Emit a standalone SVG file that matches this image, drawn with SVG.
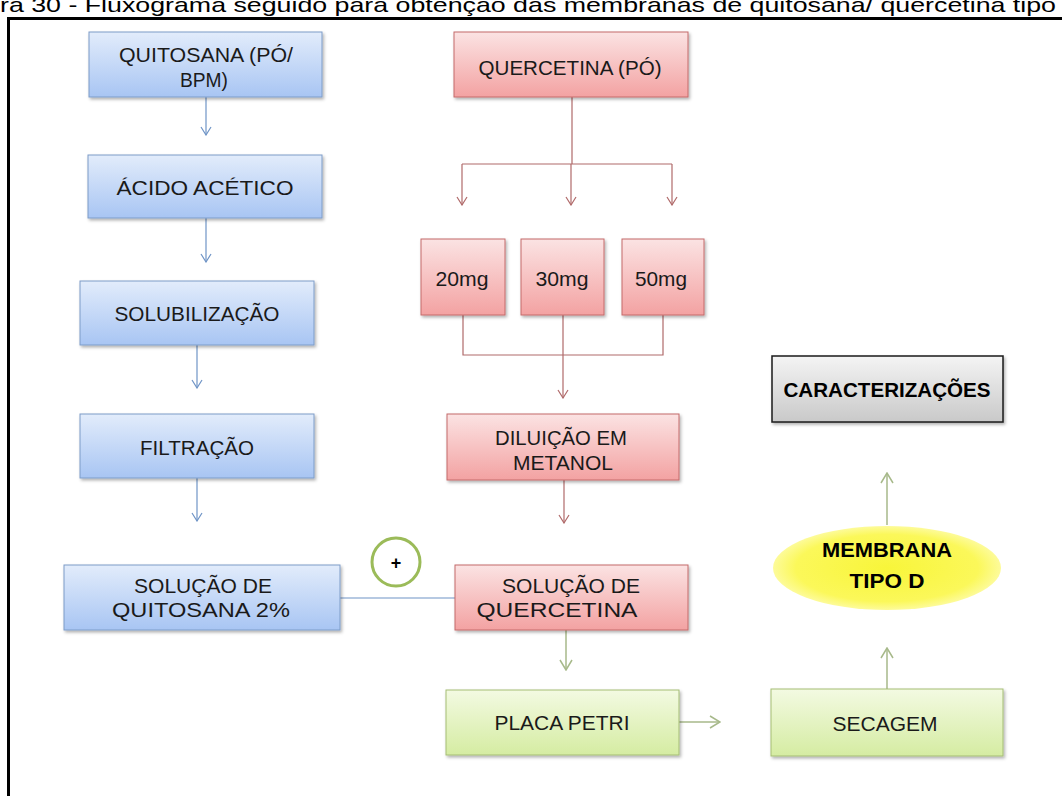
<svg xmlns="http://www.w3.org/2000/svg" width="1062" height="796" viewBox="0 0 1062 796">
<style>
.t{font-family:"Liberation Sans",Arial,sans-serif;font-size:21px;fill:#1a1a1a;text-anchor:middle}
.b{font-weight:bold;fill:#000}
.blue{fill:url(#gb);stroke:#7d9cc8;stroke-width:1}
.red{fill:url(#gr);stroke:#c46a6a;stroke-width:1}
.green{fill:url(#gg);stroke:#a5bd75;stroke-width:1}
.gray{fill:url(#gy);stroke:#1a1a1a;stroke-width:1.5}
.cb{stroke:#6f94c6;stroke-width:1.2;fill:none}
.cr{stroke:#b06a6a;stroke-width:1.2;fill:none}
.cg{stroke:#a7b98a;stroke-width:1.5;fill:none}
</style>
<defs>
<linearGradient id="gb" x1="0" y1="0" x2="0" y2="1"><stop offset="0" stop-color="#e2ecfb"/><stop offset="1" stop-color="#a8c5f3"/></linearGradient>
<linearGradient id="gr" x1="0" y1="0" x2="0" y2="1"><stop offset="0" stop-color="#fbe3e3"/><stop offset="1" stop-color="#f3a2a2"/></linearGradient>
<linearGradient id="gg" x1="0" y1="0" x2="0" y2="1"><stop offset="0" stop-color="#f3fae2"/><stop offset="1" stop-color="#d5eca2"/></linearGradient>
<linearGradient id="gy" x1="0" y1="0" x2="0" y2="1"><stop offset="0" stop-color="#f4f4f4"/><stop offset="1" stop-color="#c9c9c9"/></linearGradient>
<radialGradient id="ye" cx="0.5" cy="0.5" r="0.5"><stop offset="0" stop-color="#f8f53a"/><stop offset="0.8" stop-color="#fbf85a"/><stop offset="1" stop-color="#fdfb9a"/></radialGradient>
<filter id="sh" x="-10%" y="-10%" width="130%" height="140%"><feDropShadow dx="1.5" dy="2" stdDeviation="1.5" flood-color="#000" flood-opacity="0.3"/></filter>
<marker id="ab" markerWidth="10" markerHeight="12" refX="9" refY="6" orient="auto" markerUnits="userSpaceOnUse"><path d="M1,1 L9,6 L1,11" fill="none" stroke="#6f94c6" stroke-width="1.2"/></marker>
<marker id="ar" markerWidth="10" markerHeight="12" refX="9" refY="6" orient="auto" markerUnits="userSpaceOnUse"><path d="M1,1 L9,6 L1,11" fill="none" stroke="#b06a6a" stroke-width="1.2"/></marker>
<marker id="ag" markerWidth="12" markerHeight="14" refX="11" refY="7" orient="auto" markerUnits="userSpaceOnUse"><path d="M1,1 L11,7 L1,13" fill="none" stroke="#a7b98a" stroke-width="1.5"/></marker>
</defs>
<rect width="1062" height="796" fill="#fff"/>
<text x="0" y="12" style="font-family:'Liberation Sans',Arial,sans-serif;font-size:21px;fill:#000" textLength="1056" lengthAdjust="spacingAndGlyphs">ra 30 - Fluxograma seguido para obtenção das membranas de quitosana/ quercetina tipo</text>
<path d="M7,18.5 H1062 M8.5,17 V796" stroke="#000" stroke-width="3" fill="none"/>

<g id="connectors">
<path class="cb" d="M206,97 V135" marker-end="url(#ab)"/>
<path class="cb" d="M206,218 V262" marker-end="url(#ab)"/>
<path class="cb" d="M197,345 V388" marker-end="url(#ab)"/>
<path class="cb" d="M197,478 V521" marker-end="url(#ab)"/>
<path class="cb" d="M340,598 H455"/>
<path class="cr" d="M572,97 V164 M462,164 H672"/>
<path class="cr" d="M462,164 V205" marker-end="url(#ar)"/>
<path class="cr" d="M571,164 V205" marker-end="url(#ar)"/>
<path class="cr" d="M672,164 V205" marker-end="url(#ar)"/>
<path class="cr" d="M463,315 V355 H663 V315 M563,315 V355"/>
<path class="cr" d="M563,355 V398" marker-end="url(#ar)"/>
<path class="cr" d="M564,480 V523" marker-end="url(#ar)"/>
<path class="cg" d="M566,630 V670" marker-end="url(#ag)"/>
<path class="cg" d="M679,722 H720" marker-end="url(#ag)"/>
<path class="cg" d="M887,689 V648" marker-end="url(#ag)"/>
<path class="cg" d="M887,525 V473" marker-end="url(#ag)"/>
</g>

<g id="plus">
<circle cx="396" cy="562" r="24" fill="#fff" stroke="#9bbb59" stroke-width="3"/>
<text x="396" y="569" class="t b" style="font-size:18px">+</text>
</g>

<g id="quitosana"><rect class="blue" x="89" y="32" width="233" height="65" filter="url(#sh)"/>
<text class="t" x="206" y="62" textLength="174" lengthAdjust="spacingAndGlyphs">QUITOSANA (PÓ/</text>
<text class="t" x="204" y="87" textLength="48" lengthAdjust="spacingAndGlyphs">BPM)</text></g>
<g id="acido"><rect class="blue" x="88" y="155" width="234" height="63" filter="url(#sh)"/>
<text class="t" x="205" y="195" textLength="177" lengthAdjust="spacingAndGlyphs">ÁCIDO ACÉTICO</text></g>
<g id="solubilizacao"><rect class="blue" x="80" y="281" width="234" height="64" filter="url(#sh)"/>
<text class="t" x="197" y="321" textLength="165" lengthAdjust="spacingAndGlyphs">SOLUBILIZAÇÃO</text></g>
<g id="filtracao"><rect class="blue" x="80" y="414" width="234" height="64" filter="url(#sh)"/>
<text class="t" x="197" y="455" textLength="114" lengthAdjust="spacingAndGlyphs">FILTRAÇÃO</text></g>
<g id="sol-quitosana"><rect class="blue" x="64" y="565" width="276" height="65" filter="url(#sh)"/>
<text class="t" x="203" y="593" textLength="138" lengthAdjust="spacingAndGlyphs">SOLUÇÃO DE</text>
<text class="t" x="201" y="617" textLength="178" lengthAdjust="spacingAndGlyphs">QUITOSANA 2%</text></g>

<g id="quercetina"><rect class="red" x="454" y="32" width="234" height="65" filter="url(#sh)"/>
<text class="t" x="570" y="75" textLength="183" lengthAdjust="spacingAndGlyphs">QUERCETINA (PÓ)</text></g>
<g id="m20"><rect class="red" x="421" y="239" width="84" height="76" filter="url(#sh)"/>
<text class="t" x="462" y="286" textLength="53" lengthAdjust="spacingAndGlyphs">20mg</text></g>
<g id="m30"><rect class="red" x="521" y="239" width="83" height="76" filter="url(#sh)"/>
<text class="t" x="562" y="286" textLength="53" lengthAdjust="spacingAndGlyphs">30mg</text></g>
<g id="m50"><rect class="red" x="622" y="239" width="82" height="76" filter="url(#sh)"/>
<text class="t" x="661" y="286" textLength="52" lengthAdjust="spacingAndGlyphs">50mg</text></g>
<g id="diluicao"><rect class="red" x="447" y="414" width="232" height="66" filter="url(#sh)"/>
<text class="t" x="561" y="445" textLength="132" lengthAdjust="spacingAndGlyphs">DILUIÇÃO EM</text>
<text class="t" x="563" y="470" textLength="100" lengthAdjust="spacingAndGlyphs">METANOL</text></g>
<g id="sol-quercetina"><rect class="red" x="455" y="565" width="233" height="65" filter="url(#sh)"/>
<text class="t" x="571" y="593" textLength="138" lengthAdjust="spacingAndGlyphs">SOLUÇÃO DE</text>
<text class="t" x="557" y="617" textLength="161" lengthAdjust="spacingAndGlyphs">QUERCETINA</text></g>

<g id="placa"><rect class="green" x="446" y="690" width="233" height="65" filter="url(#sh)"/>
<text class="t" x="562" y="730" textLength="135" lengthAdjust="spacingAndGlyphs">PLACA PETRI</text></g>
<g id="secagem"><rect class="green" x="771" y="689" width="232" height="67" filter="url(#sh)"/>
<text class="t" x="885" y="731" textLength="105" lengthAdjust="spacingAndGlyphs">SECAGEM</text></g>
<g id="membrana"><ellipse cx="887" cy="568" rx="114" ry="42" fill="url(#ye)"/>
<text class="t b" x="887" y="557" textLength="130" lengthAdjust="spacingAndGlyphs">MEMBRANA</text>
<text class="t b" x="887" y="588" textLength="75" lengthAdjust="spacingAndGlyphs">TIPO D</text></g>
<g id="caracterizacoes"><rect class="gray" x="772" y="356" width="231" height="66" filter="url(#sh)"/>
<text class="t b" x="887" y="397" textLength="207" lengthAdjust="spacingAndGlyphs">CARACTERIZAÇÕES</text></g>
</svg>
